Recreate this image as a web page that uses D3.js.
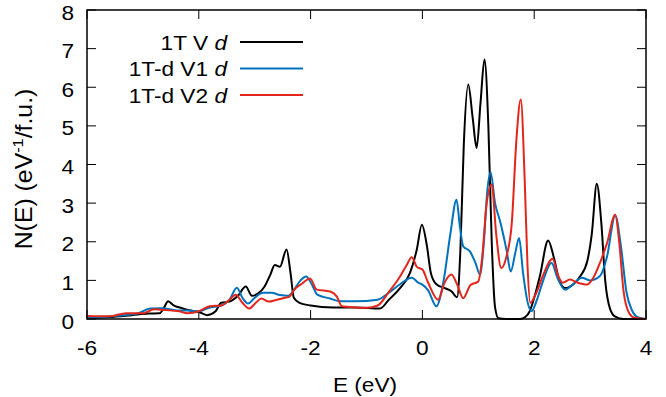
<!DOCTYPE html>
<html>
<head>
<meta charset="utf-8">
<script src="https://cdn.jsdelivr.net/npm/d3@7"></script>
<style>
  body { margin: 0; background: #fff; }
  text { font-family: "Liberation Sans", Arial, sans-serif; }
</style>
</head>
<body>
<script>
// DOS data, [E (eV), N(E)]
const dosV = [
  [-6, 0.02], [-5.6, 0.05], [-5.2, 0.1], [-4.9, 0.14], [-4.7, 0.15], [-4.62, 0.3], [-4.55, 0.46],
  [-4.45, 0.35], [-4.3, 0.28], [-4.15, 0.22], [-4.0, 0.18], [-3.85, 0.1], [-3.7, 0.2], [-3.6, 0.42],
  [-3.45, 0.45], [-3.3, 0.6], [-3.16, 0.84], [-3.05, 0.6], [-2.95, 0.65], [-2.82, 0.85], [-2.72, 1.15],
  [-2.64, 1.4], [-2.55, 1.35], [-2.43, 1.8], [-2.36, 1.2], [-2.3, 0.55], [-2.2, 0.42], [-2.0, 0.35],
  [-1.6, 0.3], [-1.2, 0.3], [-0.76, 0.27], [-0.6, 0.5], [-0.4, 0.8], [-0.22, 1.2], [-0.1, 1.8],
  [-0.01, 2.44], [0.08, 1.9], [0.15, 1.2], [0.25, 0.9], [0.4, 0.8], [0.52, 0.72], [0.62, 0.56],
  [0.68, 1.8], [0.74, 4.5], [0.82, 6.07], [0.9, 5.2], [0.97, 4.43], [1.04, 5.6], [1.11, 6.72],
  [1.18, 5.0], [1.24, 2.0], [1.3, 0.3], [1.36, 0.02], [1.5, 0], [1.75, 0], [1.84, 0.05],
  [1.92, 0.2], [1.98, 0.45], [2.1, 1.1], [2.25, 2.03], [2.35, 1.6], [2.45, 1.0], [2.55, 0.8],
  [2.7, 0.9], [2.82, 1.1], [2.95, 1.5], [3.03, 2.2], [3.12, 3.5], [3.2, 2.5], [3.27, 1.0],
  [3.36, 0.25], [3.45, 0.06], [3.6, 0], [4, 0]
];

const dosV1 = [
  [-6, 0.03], [-5.5, 0.08], [-5.1, 0.14], [-4.87, 0.27], [-4.65, 0.28], [-4.4, 0.22], [-4.2, 0.22],
  [-4.0, 0.2], [-3.8, 0.3], [-3.6, 0.35], [-3.45, 0.5], [-3.32, 0.81], [-3.22, 0.55], [-3.12, 0.4],
  [-3.0, 0.55], [-2.85, 0.68], [-2.7, 0.68], [-2.55, 0.62], [-2.4, 0.6], [-2.3, 0.75], [-2.18, 1.0],
  [-2.08, 1.1], [-1.98, 0.9], [-1.88, 0.63], [-1.65, 0.53], [-1.47, 0.46], [-1.2, 0.46],
  [-0.8, 0.5], [-0.6, 0.68], [-0.4, 0.9], [-0.19, 1.07], [-0.08, 0.95], [0.0, 0.89], [0.1, 0.75],
  [0.25, 0.33], [0.38, 1.0], [0.5, 2.2], [0.61, 3.09], [0.67, 2.4], [0.73, 1.88], [0.85, 1.75],
  [0.95, 1.45], [1.03, 1.15], [1.1, 2.0], [1.16, 3.3], [1.22, 3.8], [1.3, 3.0], [1.39, 2.53],
  [1.51, 1.75], [1.58, 1.23], [1.66, 1.7], [1.73, 2.1], [1.8, 1.2], [1.88, 0.45], [1.95, 0.2],
  [2.05, 0.5], [2.15, 0.95], [2.31, 1.45], [2.42, 1.05], [2.55, 0.76], [2.7, 0.9], [2.85, 1.07],
  [3.0, 1.0], [3.18, 1.12], [3.3, 1.6], [3.45, 2.68], [3.55, 1.9], [3.65, 0.7], [3.75, 0.22],
  [3.85, 0.05], [4, 0]
];

const dosV2 = [
  [-6, 0.08], [-5.6, 0.07], [-5.3, 0.15], [-5.0, 0.15], [-4.8, 0.25], [-4.6, 0.23], [-4.35, 0.2],
  [-4.2, 0.15], [-4.0, 0.2], [-3.8, 0.33], [-3.6, 0.35], [-3.45, 0.5], [-3.34, 0.63], [-3.22, 0.42],
  [-3.1, 0.27], [-2.98, 0.42], [-2.88, 0.53], [-2.75, 0.45], [-2.6, 0.5], [-2.46, 0.55],
  [-2.38, 0.58], [-2.28, 0.78], [-2.15, 0.92], [-2.01, 1.05], [-1.89, 0.76], [-1.65, 0.71],
  [-1.53, 0.58], [-1.44, 0.33], [-1.2, 0.3], [-1.0, 0.29], [-0.8, 0.35], [-0.6, 0.7],
  [-0.4, 1.1], [-0.28, 1.4], [-0.19, 1.6], [-0.1, 1.35], [0.0, 1.28], [0.1, 0.95], [0.28, 0.5],
  [0.4, 0.95], [0.52, 1.15], [0.62, 0.9], [0.73, 0.54], [0.86, 0.88], [1.0, 0.97], [1.07, 1.6],
  [1.15, 3.0], [1.24, 3.48], [1.32, 2.2], [1.41, 1.32], [1.5, 1.6], [1.6, 2.5], [1.68, 4.6],
  [1.76, 5.68], [1.83, 3.6], [1.88, 1.4], [1.93, 0.42], [2.03, 0.65], [2.15, 1.1], [2.33, 1.56],
  [2.42, 1.15], [2.51, 0.94], [2.64, 1.02], [2.76, 0.95], [2.94, 0.89], [3.05, 1.05], [3.15, 1.36],
  [3.3, 1.95], [3.45, 2.7], [3.52, 2.0], [3.6, 0.7], [3.7, 0.15], [3.8, 0.03], [4, 0]
];

const seriesNames = ["1T V", "1T-d V1", "1T-d V2"];
const seriesColors = ["#000000", "#0072bd", "#e3261b"];
const seriesData = [dosV, dosV1, dosV2];
const xTicks = [-6, -4, -2, 0, 2, 4];
const yTicks = [0, 1, 2, 3, 4, 5, 6, 7, 8];

const width = 666;
const height = 397;
const margin = { top: 10, right: 20, bottom: 78, left: 87 };

const svg = d3.select("body")
  .append("svg")
  .attr("width", width)
  .attr("height", height);

const x = d3.scaleLinear().domain([-6, 4]).range([margin.left, width - margin.right]);
const y = d3.scaleLinear().domain([0, 8]).range([height - margin.bottom, margin.top]);

const tickLen = 9;
const fontSize = 21;
const stretch = 1.08; // text in the picture runs a bit wider than this font

// text placed at (px, py), slightly widened along the line
function label(g, px, py, anchor) {
  return g.append("text")
    .attr("transform", `translate(${px},${py}) scale(${stretch},1)`)
    .attr("text-anchor", anchor)
    .attr("font-size", fontSize);
}

// tick marks (inward, mirrored on top and right)
const ticks = svg.append("g").attr("stroke", "#000").attr("stroke-width", 1);
xTicks.forEach(t => {
  ticks.append("line").attr("x1", x(t)).attr("x2", x(t)).attr("y1", y(0)).attr("y2", y(0) - tickLen);
  ticks.append("line").attr("x1", x(t)).attr("x2", x(t)).attr("y1", y(8)).attr("y2", y(8) + tickLen);
});
yTicks.forEach(t => {
  ticks.append("line").attr("x1", x(-6)).attr("x2", x(-6) + tickLen).attr("y1", y(t)).attr("y2", y(t));
  ticks.append("line").attr("x1", x(4)).attr("x2", x(4) - tickLen).attr("y1", y(t)).attr("y2", y(t));
});

// tick labels
const tl = svg.append("g");
xTicks.forEach(t => label(tl, x(t), y(0) + 36, "middle").text(t));
yTicks.forEach(t => label(tl, x(-6) - 13, y(t) + 9.5, "end").text(t));

// curves
const line = d3.line()
  .x(d => x(d[0]))
  .y(d => y(d[1]))
  .curve(d3.curveMonotoneX);

const plot = svg.append("g");
seriesData.forEach((data, i) => {
  plot.append("path")
    .datum(data)
    .attr("fill", "none")
    .attr("stroke", seriesColors[i])
    .attr("stroke-width", 2)
    .attr("stroke-linejoin", "round")
    .attr("d", line);
});

// frame
svg.append("rect")
  .attr("x", x(-6))
  .attr("y", y(8))
  .attr("width", x(4) - x(-6))
  .attr("height", y(0) - y(8))
  .attr("fill", "none")
  .attr("stroke", "#000")
  .attr("stroke-width", 1.5);

// legend
const legend = svg.append("g");
seriesNames.forEach((name, i) => {
  const ly = 42 + i * 26.5;
  const t = label(legend, 227, ly + 7.5, "end");
  t.append("tspan").text(name + " ");
  t.append("tspan").attr("font-style", "italic").text("d");
  legend.append("line")
    .attr("x1", 240).attr("x2", 303)
    .attr("y1", ly).attr("y2", ly)
    .attr("stroke", seriesColors[i])
    .attr("stroke-width", 2);
});

// axis labels
label(svg, 365, 392, "middle").text("E (eV)");

const yl = svg.append("text")
  .attr("transform", `translate(32, 169) rotate(-90) scale(${stretch},1)`)
  .attr("text-anchor", "middle")
  .attr("font-size", 23);
yl.append("tspan").text("N(E) (eV");
yl.append("tspan").attr("font-size", 15).attr("dy", -9).text("-1");
yl.append("tspan").attr("dy", 9).text("/f.u.)");
</script>
</body>
</html>
